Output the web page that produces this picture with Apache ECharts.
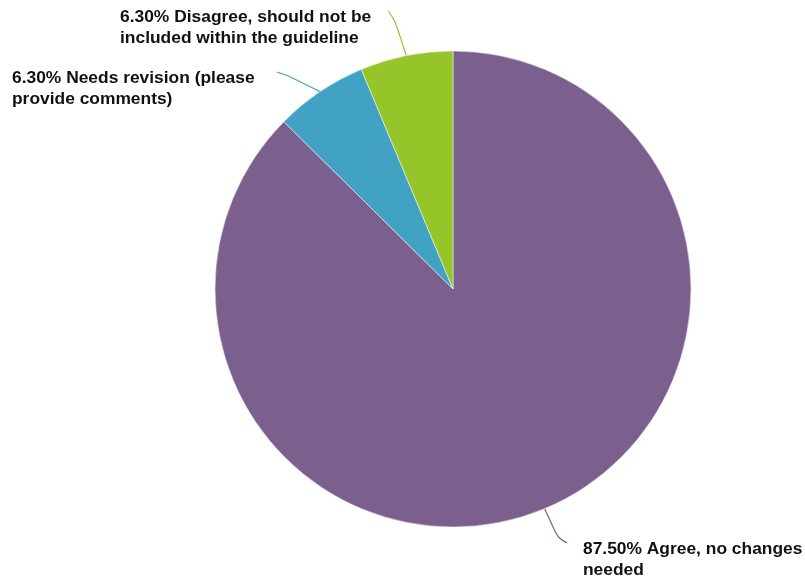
<!DOCTYPE html>
<html>
<head>
<meta charset="utf-8">
<script src="https://cdn.jsdelivr.net/npm/echarts@6/dist/echarts.min.js"></script>
<style>html,body{margin:0;padding:0;background:#fff;}#c{width:805px;height:581px;}</style>
</head>
<body>
<div id="c"></div>
<script>
const categories = ['Agree, no changes\nneeded', 'Needs revision (please\nprovide comments)', 'Disagree, should not be\nincluded within the guideline'];
const values = [87.5, 6.3, 6.3];
const colors = ['#7b608e', '#42a2c3', '#96c529'];
const labelPos = [[583, 538.5], [12, 67.5], [120, 6.5]];

const chart = echarts.init(document.getElementById('c'), null, {renderer: 'canvas'});
chart.setOption({
  animation: false,
  series: [{
    type: 'pie',
    center: [453, 289],
    radius: [0, 238],
    startAngle: 90,
    clockwise: true,
    avoidLabelOverlap: false,
    data: categories.map((c, i) => ({
      name: c, value: values[i],
      itemStyle: {color: colors[i]},
      labelLine: {lineStyle: {color: colors[i]}}
    })),
    itemStyle: {borderColor: '#ffffff', borderWidth: 0.5},
    label: {
      show: true,
      formatter: p => {
        const parts = p.name.split('\n');
        return values[p.dataIndex].toFixed(2) + '% ' + parts[0] + '\n' + parts.slice(1).join('\n');
      },
      fontFamily: 'Liberation Sans, Arial, sans-serif',
      fontWeight: 'bold',
      fontSize: 17.4,
      lineHeight: 21,
      color: '#111',
      align: 'left'
    },
    labelLine: {show: true, smooth: 0.35, length: 15, length2: 10, lineStyle: {width: 1.2}},
    labelLayout: p => {
      const i = p.dataIndex;
      const [x, y] = labelPos[i];
      const s = p.labelLinePoints ? p.labelLinePoints[0] : null;
      const w = p.labelRect.width;
      let pts;
      if (s) {
        if (i === 2) {
          const e = [x + w + 17, y + 4.5];
          pts = [s, [e[0] + 7, e[1] + 10], e];
        } else if (i === 1) {
          const e = [x + w + 4, y + 4.5];
          pts = [s, [e[0] + 28, e[1] + 3], [e[0] + 18, e[1]], e];
        } else {
          const e = [x - 16, y + 4.5];
          pts = [s, [e[0] - 9, e[1] - 5], e];
        }
      }
      const out = {x: x, y: y, align: 'left', verticalAlign: 'top'};
      if (pts) out.labelLinePoints = pts;
      return out;
    }
  }]
});
</script>
</body>
</html>
